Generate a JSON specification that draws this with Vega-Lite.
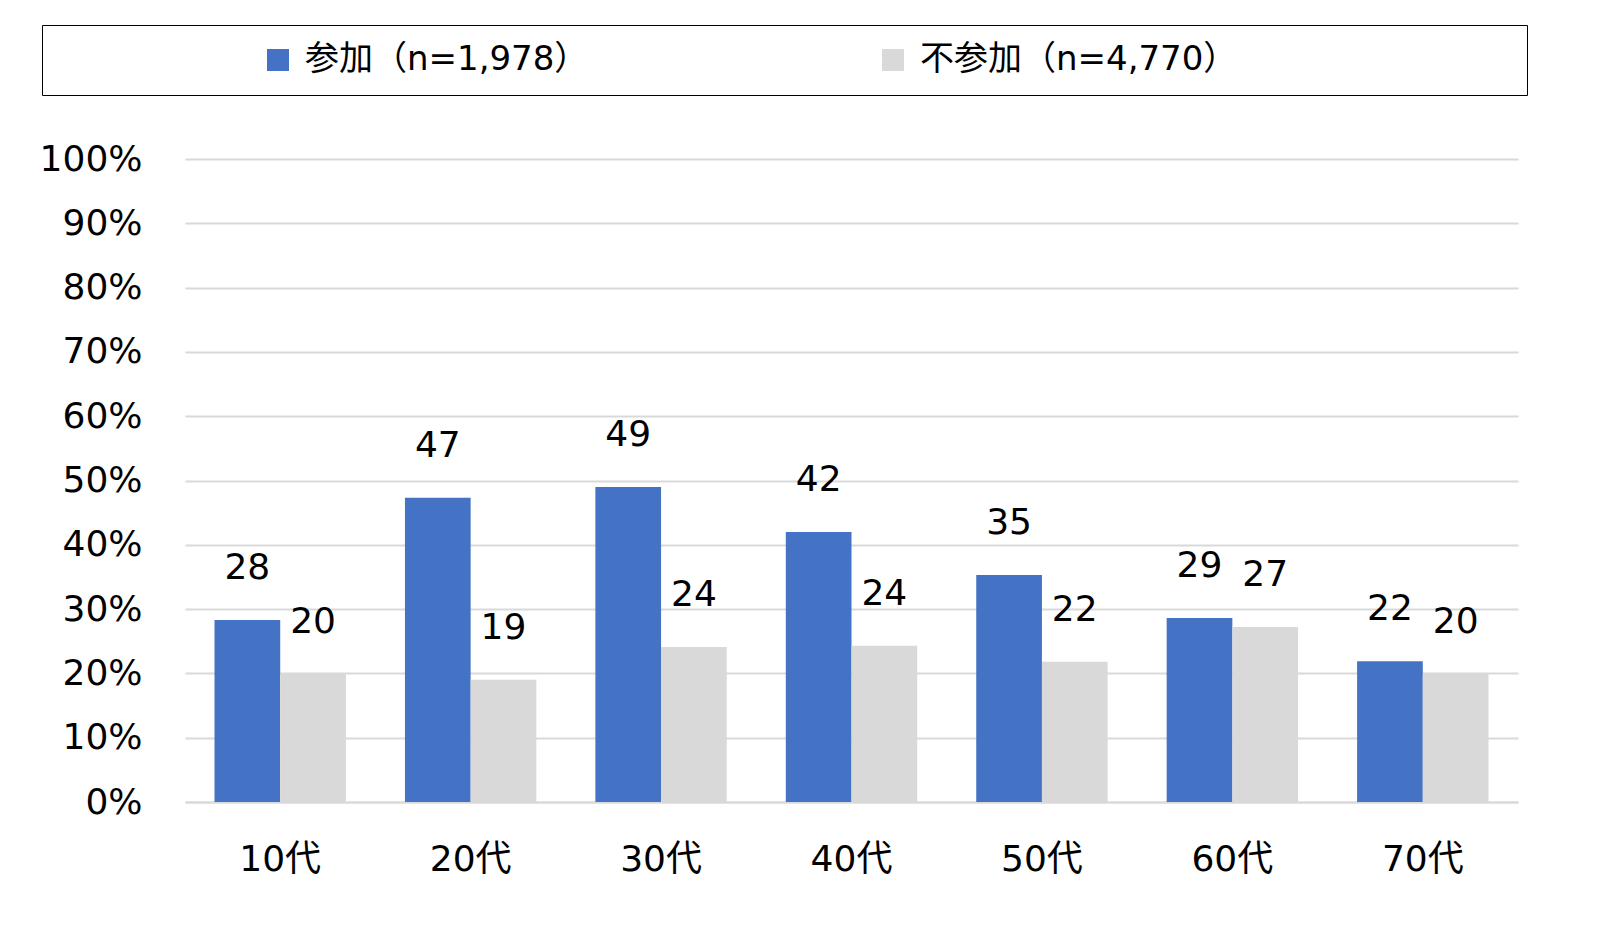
{
  "$schema": "https://vega.github.io/schema/vega-lite/v6.json",
  "background": "white",
  "padding": {"left": 39, "top": 24, "right": 10, "bottom": 10},
  "width": 1333,
  "height": 643,
  "config": {
    "font": "DejaVu Sans, Noto Sans CJK JP",
    "view": {"stroke": null}
  },
  "data": {
    "values": [
      {"age": "10代", "series": "参加（n=1,978）", "value": 28.3},
      {"age": "10代", "series": "不参加（n=4,770）", "value": 19.9},
      {"age": "20代", "series": "参加（n=1,978）", "value": 47.3},
      {"age": "20代", "series": "不参加（n=4,770）", "value": 19.0},
      {"age": "30代", "series": "参加（n=1,978）", "value": 49.0},
      {"age": "30代", "series": "不参加（n=4,770）", "value": 24.1},
      {"age": "40代", "series": "参加（n=1,978）", "value": 42.0},
      {"age": "40代", "series": "不参加（n=4,770）", "value": 24.3},
      {"age": "50代", "series": "参加（n=1,978）", "value": 35.3},
      {"age": "50代", "series": "不参加（n=4,770）", "value": 21.8},
      {"age": "60代", "series": "参加（n=1,978）", "value": 28.6},
      {"age": "60代", "series": "不参加（n=4,770）", "value": 27.2},
      {"age": "70代", "series": "参加（n=1,978）", "value": 21.9},
      {"age": "70代", "series": "不参加（n=4,770）", "value": 19.9}
    ]
  },
  "encoding": {
    "x": {
      "field": "age",
      "type": "nominal",
      "sort": null,
      "scale": {"paddingInner": 0.31, "paddingOuter": 0.155},
      "axis": {
        "title": null,
        "labelAngle": 0,
        "labelFontSize": 36,
        "labelColor": "black",
        "labelPadding": 40,
        "ticks": false,
        "domainColor": "#D9D9D9",
        "domainWidth": 2
      }
    },
    "xOffset": {"field": "series", "type": "nominal", "sort": ["参加（n=1,978）", "不参加（n=4,770）"]},
    "y": {
      "field": "value",
      "type": "quantitative",
      "scale": {"domain": [0, 100]},
      "axis": {
        "title": null,
        "values": [0, 10, 20, 30, 40, 50, 60, 70, 80, 90, 100],
        "labelExpr": "datum.value + '%'",
        "labelFontSize": 36,
        "labelColor": "black",
        "labelPadding": 43,
        "ticks": false,
        "domain": false,
        "gridColor": "#D9D9D9",
        "gridWidth": 2
      }
    }
  },
  "layer": [
    {
      "mark": {"type": "bar"},
      "encoding": {
        "color": {
          "field": "series",
          "type": "nominal",
          "sort": ["参加（n=1,978）", "不参加（n=4,770）"],
          "scale": {"domain": ["参加（n=1,978）", "不参加（n=4,770）"], "range": ["#4472C4", "#D9D9D9"]},
          "legend": {
            "title": " ",
            "titleOrient": "right",
            "titleFontSize": 1,
            "titlePadding": 272,
            "orient": "none",
            "legendX": -143,
            "legendY": -134,
            "direction": "horizontal",
            "strokeColor": "black",
            "padding": 18,
            "symbolType": "square",
            "symbolSize": 484,
            "symbolStrokeWidth": 0,
            "symbolOpacity": 1,
            "symbolOffset": 201,
            "labelOffset": 10,
            "labelFontSize": 34,
            "labelColor": "black",
            "labelLimit": 1000,
            "columnPadding": 86
          }
        }
      }
    },
    {
      "mark": {"type": "text", "baseline": "alphabetic", "dy": -41, "fontSize": 36, "color": "black"},
      "encoding": {"text": {"field": "value", "type": "quantitative", "format": ".0f"}}
    }
  ]
}
